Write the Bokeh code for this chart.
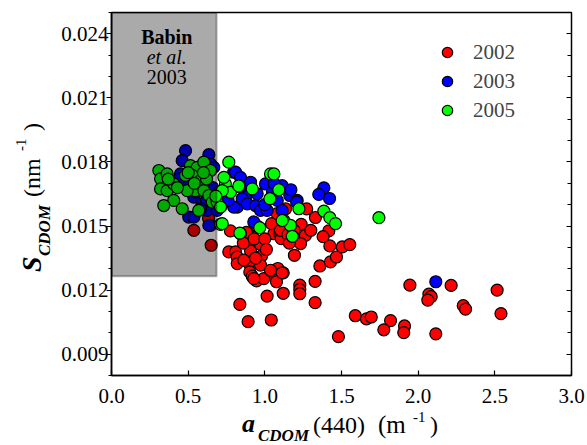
from bokeh.plotting import figure
from bokeh.models import (Range1d, LinearAxis, SingleIntervalTicker, NumeralTickFormatter,
                          Label, BoxAnnotation, Div)
from bokeh.layouts import row, column
from bokeh.embed import file_html
from bokeh.resources import INLINE

# ---------------- data ----------------
x_2002 = [1.946, 2.215, 2.515, 2.070, 2.085, 2.063, 2.294, 2.309, 2.540, 1.590, 1.663, 1.694,
          1.820, 1.776, 1.911, 1.906, 2.115, 1.480,
          1.328, 1.328, 1.228, 1.228, 1.228, 1.120, 1.120, 1.193, 1.359, 1.428, 1.467, 1.424,
          1.505, 1.554, 1.417, 1.237, 1.265, 1.233,
          0.776, 0.765, 0.809, 0.820, 0.820, 0.895, 0.902, 0.907, 0.972, 0.978, 0.895, 0.972,
          0.902, 0.918, 0.946, 0.993, 1.042, 1.070, 1.076, 1.085, 1.113, 1.015, 0.837, 0.891,
          1.042,
          1.059, 1.098, 1.107, 1.044, 0.537, 0.650, 0.633, 0.880, 1.102, 1.135, 1.081, 0.841,
          0.863, 0.928, 1.037, 0.860, 0.930, 1.000, 1.150, 1.190, 0.940, 1.010, 1.160, 0.950,
          1.300, 1.380, 1.273, 1.330]
y_2002 = [0.01223, 0.01222, 0.01200, 0.01181, 0.01169, 0.01153, 0.01127, 0.01111, 0.01090,
          0.01080, 0.01065, 0.01074, 0.01057, 0.01014, 0.01032, 0.01001, 0.00995, 0.00982,
          0.01241, 0.01141, 0.01223, 0.01203, 0.01183, 0.01185, 0.01281, 0.01363, 0.01313,
          0.01332, 0.01355, 0.01407, 0.01402, 0.01413, 0.01477, 0.01508, 0.01456, 0.01418,
          0.01477, 0.01379, 0.01379, 0.01355, 0.01324, 0.01456, 0.01418, 0.01383, 0.01414,
          0.01359, 0.01327, 0.01317, 0.01285, 0.01265, 0.01243, 0.01254, 0.01290, 0.01259,
          0.01239, 0.01301, 0.01281, 0.01172, 0.01133, 0.01052, 0.01060,
          0.01464, 0.01464, 0.01441, 0.01511, 0.01480, 0.01410, 0.01536, 0.01470, 0.01480,
          0.01581, 0.01558, 0.01464, 0.01340, 0.01254, 0.01293, 0.01420, 0.01440, 0.01440,
          0.01460, 0.01480, 0.01350, 0.01390, 0.01420, 0.01500, 0.01480, 0.01450, 0.01580,
          0.01540]

x_2003 = [0.483, 0.635, 0.461, 0.646, 0.450, 0.472, 0.537, 0.591, 0.624, 0.504, 0.646, 0.689,
          0.667, 0.797, 0.841, 0.874, 0.820, 0.809, 0.841, 0.907, 1.004, 1.113, 1.163, 1.211,
          0.852, 0.885, 0.939, 0.972, 1.015, 0.950, 1.081, 1.113, 0.928, 0.797, 1.385, 1.352,
          1.422, 1.207, 2.115, 0.537, 0.635, 0.520, 0.560, 0.600, 0.500, 0.550, 0.620, 0.580,
          0.440, 0.660, 0.700, 0.720, 0.760, 1.050, 1.000, 1.170, 1.060]
y_2003 = [0.01853, 0.01834, 0.01806, 0.01791, 0.01744, 0.01688, 0.01635, 0.01604, 0.01573,
          0.01542, 0.01503, 0.01573, 0.01775, 0.01752, 0.01682, 0.01635, 0.01589, 0.01752,
          0.01728, 0.01705, 0.01697, 0.01689, 0.01643, 0.01620, 0.01628, 0.01604, 0.01596,
          0.01573, 0.01573, 0.01651, 0.01620, 0.01573, 0.01519, 0.01589, 0.01679, 0.01648,
          0.01629, 0.01612, 0.01239, 0.01542, 0.01503, 0.01760, 0.01720, 0.01680, 0.01700,
          0.01660, 0.01620, 0.01580, 0.01720, 0.01680, 0.01660, 0.01600, 0.01620, 0.01660,
          0.01600, 0.01670, 0.01700]

x_2005 = [0.309, 0.320, 0.363, 0.320, 0.363, 0.406, 0.406, 0.341, 0.461, 0.515, 0.559, 0.602,
          0.526, 0.580, 0.646, 0.548, 0.602, 0.635, 0.657, 0.689, 0.711, 0.569, 0.765, 0.743,
          0.776, 0.722, 0.483, 0.494, 0.830, 0.837, 0.711, 0.967, 0.733, 0.918, 1.037, 1.059,
          1.091, 1.033, 1.222, 1.124, 1.167, 1.179, 1.113, 1.385, 1.424, 1.461, 1.744, 0.722,
          0.620, 0.500, 0.430, 0.370, 0.680, 0.600, 0.540]
y_2005 = [0.01760, 0.01721, 0.01744, 0.01674, 0.01666, 0.01697, 0.01620, 0.01596, 0.01581,
          0.01783, 0.01775, 0.01799, 0.01737, 0.01713, 0.01760, 0.01666, 0.01666, 0.01643,
          0.01612, 0.01612, 0.01589, 0.01573, 0.01799, 0.01697, 0.01658, 0.01666, 0.01737,
          0.01666, 0.01688, 0.01467, 0.01508, 0.01492, 0.01728, 0.01674, 0.01744, 0.01744,
          0.01670, 0.01628, 0.01581, 0.01526, 0.01503, 0.01452, 0.01526, 0.01570, 0.01539,
          0.01511, 0.01539, 0.01511, 0.01720, 0.01750, 0.01680, 0.01720, 0.01640, 0.01750,
          0.01700]

babin_a_range = [0.0, 0.685]      # a_CDOM(440) range of Babin et al. 2003
babin_s_min = 0.01265             # lower S_CDOM bound of Babin et al. 2003

series = [("2002", x_2002, y_2002, "#ff0000"),
          ("2003", x_2003, y_2003, "#0000ff"),
          ("2005", x_2005, y_2005, "#00ff00")]

SERIF = "Liberation Serif"
YLAB_W = 56      # width of the y-title strip
XLAB_H = 32      # height of the x-title strip
W, H = 587, 445

p = figure(width=W - YLAB_W, height=H - XLAB_H, output_backend="svg", toolbar_location=None,
           x_range=Range1d(0, 3), y_range=Range1d(0.008, 0.025),
           min_border_left=111 - YLAB_W, min_border_right=16, min_border_top=12,
           min_border_bottom=38,
           background_fill_color="white", border_fill_color="white")
p.grid.visible = False
p.outline_line_color = "black"
p.outline_line_width = 1.5

for name, xs, ys, col in series:
    p.scatter(xs, ys, size=12, fill_color=col, line_color="black", line_width=1.2,
              legend_label=name)

# Babin et al. region (darkening overlay)
p.add_layout(BoxAnnotation(left=babin_a_range[0], right=babin_a_range[1], bottom=babin_s_min,
                           fill_color="black", fill_alpha=0.335,
                           line_color="black", line_width=2))

# axes
xa = p.xaxis[0]
xa.ticker = SingleIntervalTicker(interval=0.5, num_minor_ticks=0)
xa.formatter = NumeralTickFormatter(format="0.0")
xa.major_tick_in = 5
xa.major_tick_out = 0
xa.minor_tick_line_color = None
xa.major_label_standoff = 13
ya = p.yaxis[0]
ya.ticker = SingleIntervalTicker(interval=0.003, num_minor_ticks=3)
ya.formatter = NumeralTickFormatter(format="0.000")
ya.major_tick_in = 0
ya.major_tick_out = 5
ya.minor_tick_in = 0
ya.minor_tick_out = 3
ya.major_label_standoff = -2
for ax in (xa, ya):
    ax.axis_line_width = 1.5
    ax.major_tick_line_width = 1.2
    ax.minor_tick_line_width = 1.0
    ax.major_label_text_font = SERIF
    ax.major_label_text_font_size = "21px"
    ax.major_label_text_color = "black"

ra = LinearAxis(ticker=SingleIntervalTicker(interval=0.003, num_minor_ticks=3),
                major_tick_in=5, major_tick_out=0, minor_tick_in=4, minor_tick_out=0,
                major_label_text_font_size="0px", major_label_text_color=None,
                axis_line_color=None, major_tick_line_width=1.2, major_label_standoff=0)
p.add_layout(ra, "right")

# legend
lg = p.legend[0]
lg.location = (323, 252)
lg.border_line_color = None
lg.background_fill_alpha = 0
lg.padding = 0
lg.margin = 0
lg.spacing = 3
lg.glyph_width = 26
lg.glyph_height = 26
lg.label_height = 20
lg.label_standoff = 13
lg.label_text_font = SERIF
lg.label_text_font_size = "21px"

# text in the Babin box (data coordinates)
for txt, yv, style in [("Babin", 0.02386, "bold"), ("et al.", 0.02290, "italic"),
                       ("2003", 0.02200, "normal")]:
    p.add_layout(Label(x=0.36, y=yv, text=txt, level="overlay", text_color="black",
                       text_font=SERIF, text_font_size="20px", text_font_style=style,
                       text_align="center", text_baseline="alphabetic"))


def span(txt, left, baseline, size, bold=False, italic=False, rotate=False):
    top = baseline - 0.8375 * size
    st = (f"position:absolute;white-space:nowrap;line-height:1;font-family:'{SERIF}';"
          f"font-size:{size}px;color:black;font-weight:{'bold' if bold else 'normal'};"
          f"font-style:{'italic' if italic else 'normal'};")
    if rotate:
        # left = baseline x position, baseline = start y position (text runs upward)
        st += (f"left:{left - 0.8375 * size:.1f}px;top:{baseline:.1f}px;"
               "transform:rotate(-90deg);transform-origin:0 0;")
    else:
        st += f"left:{left:.1f}px;top:{top:.1f}px;"
    return f'<span style="{st}">{txt}</span>'


# x-axis title (coords inside the bottom strip, origin at its top-left)
x_html = "".join([
    span("a", 186, 20, 26, True, True),
    span("CDOM", 202, 28, 17, True, True),
    span("(440)", 257, 20, 24),
    span("(m", 322, 20, 25),
    span("-1", 357, 9.5, 15),
    span(")", 374, 20, 24),
])
xdiv = Div(text=f'<div style="position:relative;width:{W - YLAB_W}px;height:{XLAB_H}px;">{x_html}</div>',
           width=W - YLAB_W, height=XLAB_H, margin=(0, 0, 0, 0))

# y-axis title (rotated pieces: first arg = baseline x, second = start y)
y_html = "".join([
    span("S", 41, 272, 28, True, True, rotate=True),
    span("CDOM", 50, 256, 17, True, True, rotate=True),
    span("(nm", 40, 197, 24, rotate=True),
    span("-1", 27, 151, 15, rotate=True),
    span(")", 40, 131, 24, rotate=True),
])
ydiv = Div(text=f'<div style="position:relative;width:{YLAB_W}px;height:{H}px;">{y_html}</div>',
           width=YLAB_W, height=H, margin=(0, 0, 0, 0))

layout = row(ydiv, column(p, xdiv, spacing=0), spacing=0)

open("out.html", "w").write(file_html(layout, INLINE))
